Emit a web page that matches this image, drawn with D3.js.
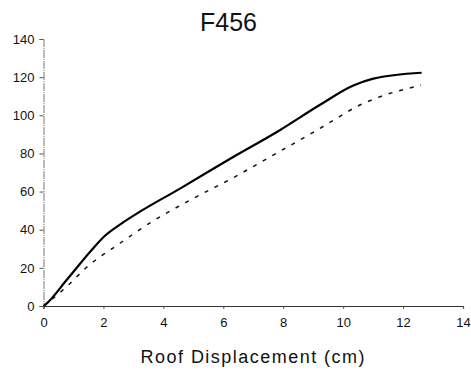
<!DOCTYPE html>
<html><head><meta charset="utf-8">
<script src="https://cdn.jsdelivr.net/npm/d3@7"></script>
<style>
html,body{margin:0;padding:0;background:#fff;}
text{font-family:Arial,"Liberation Sans",sans-serif;fill:#111;}
</style></head>
<body>
<svg id="chart" width="471" height="374"></svg>
<script>
const title = "F456";
const xLabel = "Roof Displacement (cm)";
const xTicks = [0, 2, 4, 6, 8, 10, 12, 14];
const yTicks = [0, 20, 40, 60, 80, 100, 120, 140];
const solidX = [0, 0.11, 0.77, 1.66, 2.05, 2.6, 3.1, 4.57, 6.23, 7.9, 9.23, 10.34, 11.01, 12.62];
const solidY = [0, 1.4, 13.6, 30.3, 36.8, 43.2, 48.3, 61.7, 77.2, 92.3, 105.5, 115.6, 119.2, 122.3];
const dashX = [0, 0.77, 1.44, 2.55, 3.66, 5.01, 6.29, 7.57, 8.84, 9.68, 10.46, 11.01, 12.6];
const dashY = [0, 10.1, 20.3, 32.9, 44.6, 56.5, 66.9, 78.3, 89.6, 97.4, 104.6, 108.4, 115.8];

const svg = d3.select("#chart");
const x = d3.scaleLinear().domain([0, 14]).range([43.5, 463]);
const y = d3.scaleLinear().domain([0, 140]).range([306, 39]);

// title
svg.append("text").attr("x", 228.5).attr("y", 31).attr("text-anchor", "middle")
  .style("font-size", "25px").text(title);

// x axis
const xAxis = d3.axisBottom(x).tickValues(xTicks).tickSize(3).tickPadding(9).tickFormat(d3.format("d"));
const gx = svg.append("g").attr("transform", `translate(0,${y(0)})`).call(xAxis);
gx.select(".domain").attr("stroke", "#333").attr("stroke-width", 1.2);
gx.selectAll(".tick line").attr("stroke", "#555");
gx.selectAll(".tick text").style("font-size", "13px").attr("fill", "#222");

// y axis
const yAxis = d3.axisLeft(y).tickValues(yTicks).tickSize(4).tickPadding(5).tickFormat(d3.format("d"));
const gy = svg.append("g").attr("transform", `translate(${x(0)},0)`).call(yAxis);
gy.select(".domain").attr("stroke", "#777").attr("stroke-width", 1).attr("stroke-dasharray", "8,1,1,1");
gy.selectAll(".tick line").attr("stroke", "#555");
gy.selectAll(".tick text").style("font-size", "13px").attr("fill", "#222");

// x label
svg.append("text").attr("x", 252.5).attr("y", 363).attr("text-anchor", "middle")
  .style("font-size", "18px").attr("textLength", 224).attr("lengthAdjust", "spacing")
  .text(xLabel);

const line = d3.line().x(d => x(d[0])).y(d => y(d[1])).curve(d3.curveMonotoneX);
svg.append("path").datum(solidX.map((v, i) => [v, solidY[i]]))
  .attr("d", line).attr("fill", "none").attr("stroke", "#000").attr("stroke-width", 2.2);
svg.append("path").datum(dashX.map((v, i) => [v, dashY[i]]))
  .attr("d", line).attr("fill", "none").attr("stroke", "#111").attr("stroke-width", 1.5)
  .attr("stroke-dasharray", "4,7");
</script>
</body></html>
